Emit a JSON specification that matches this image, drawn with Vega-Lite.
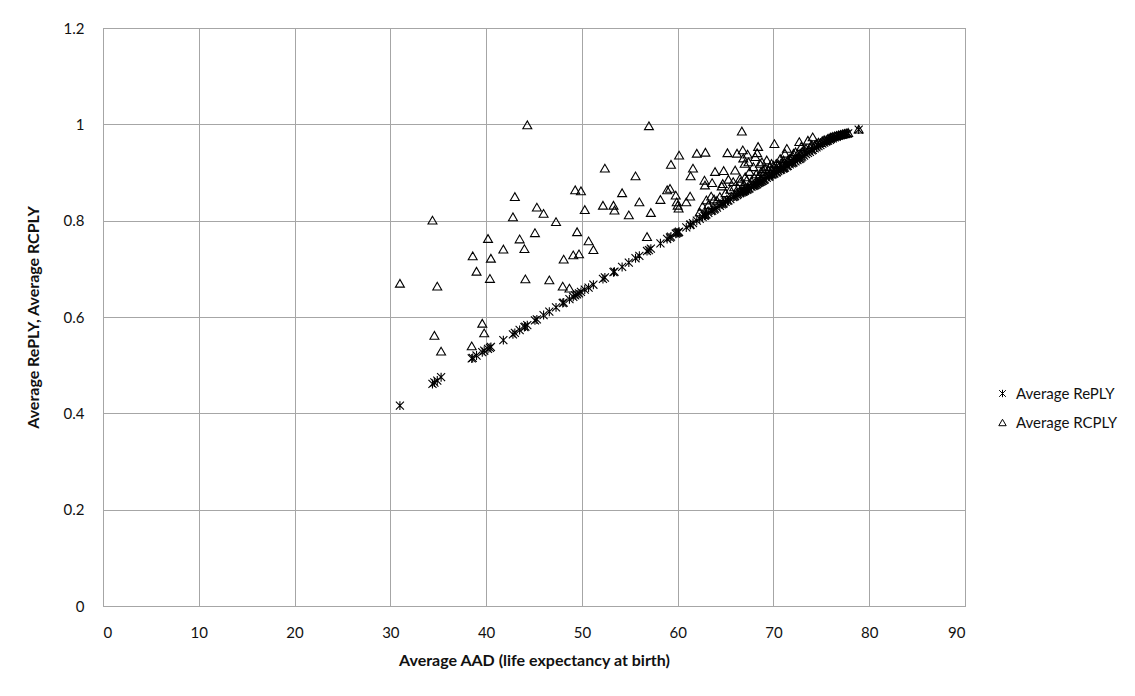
{
  "$schema": "https://vega.github.io/schema/vega-lite/v6.json",
  "width": 862,
  "height": 578,
  "autosize": "none",
  "padding": {"left": 103, "top": 28, "right": 170, "bottom": 90},
  "background": "white",
  "data": {
    "values": [
      {"aad": 31.0, "Average RePLY": 0.416, "Average RCPLY": 0.670},
      {"aad": 34.4, "Average RePLY": 0.461, "Average RCPLY": 0.801},
      {"aad": 34.6, "Average RePLY": 0.464, "Average RCPLY": 0.562},
      {"aad": 34.9, "Average RePLY": 0.468, "Average RCPLY": 0.664},
      {"aad": 35.3, "Average RePLY": 0.475, "Average RCPLY": 0.529},
      {"aad": 38.5, "Average RePLY": 0.514, "Average RCPLY": 0.540},
      {"aad": 38.6, "Average RePLY": 0.515, "Average RCPLY": 0.727},
      {"aad": 39.0, "Average RePLY": 0.520, "Average RCPLY": 0.695},
      {"aad": 39.6, "Average RePLY": 0.527, "Average RCPLY": 0.587},
      {"aad": 39.8, "Average RePLY": 0.530, "Average RCPLY": 0.567},
      {"aad": 40.2, "Average RePLY": 0.534, "Average RCPLY": 0.763},
      {"aad": 40.5, "Average RePLY": 0.538, "Average RCPLY": 0.722},
      {"aad": 40.4, "Average RePLY": 0.536, "Average RCPLY": 0.680},
      {"aad": 41.8, "Average RePLY": 0.552, "Average RCPLY": 0.741},
      {"aad": 42.8, "Average RePLY": 0.564, "Average RCPLY": 0.808},
      {"aad": 43.0, "Average RePLY": 0.567, "Average RCPLY": 0.850},
      {"aad": 43.5, "Average RePLY": 0.573, "Average RCPLY": 0.762},
      {"aad": 44.0, "Average RePLY": 0.579, "Average RCPLY": 0.742},
      {"aad": 44.1, "Average RePLY": 0.580, "Average RCPLY": 0.679},
      {"aad": 44.3, "Average RePLY": 0.583, "Average RCPLY": 0.999},
      {"aad": 45.1, "Average RePLY": 0.593, "Average RCPLY": 0.775},
      {"aad": 45.3, "Average RePLY": 0.595, "Average RCPLY": 0.828},
      {"aad": 46.0, "Average RePLY": 0.604, "Average RCPLY": 0.815},
      {"aad": 46.6, "Average RePLY": 0.611, "Average RCPLY": 0.677},
      {"aad": 47.3, "Average RePLY": 0.620, "Average RCPLY": 0.798},
      {"aad": 48.1, "Average RePLY": 0.630, "Average RCPLY": 0.720},
      {"aad": 48.0, "Average RePLY": 0.629, "Average RCPLY": 0.664},
      {"aad": 48.7, "Average RePLY": 0.637, "Average RCPLY": 0.660},
      {"aad": 49.1, "Average RePLY": 0.642, "Average RCPLY": 0.729},
      {"aad": 49.7, "Average RePLY": 0.649, "Average RCPLY": 0.731},
      {"aad": 49.3, "Average RePLY": 0.645, "Average RCPLY": 0.864},
      {"aad": 49.9, "Average RePLY": 0.652, "Average RCPLY": 0.862},
      {"aad": 49.5, "Average RePLY": 0.647, "Average RCPLY": 0.777},
      {"aad": 50.3, "Average RePLY": 0.657, "Average RCPLY": 0.823},
      {"aad": 50.7, "Average RePLY": 0.661, "Average RCPLY": 0.758},
      {"aad": 51.2, "Average RePLY": 0.667, "Average RCPLY": 0.740},
      {"aad": 52.2, "Average RePLY": 0.679, "Average RCPLY": 0.832},
      {"aad": 52.4, "Average RePLY": 0.682, "Average RCPLY": 0.909},
      {"aad": 53.3, "Average RePLY": 0.693, "Average RCPLY": 0.832},
      {"aad": 53.4, "Average RePLY": 0.694, "Average RCPLY": 0.822},
      {"aad": 54.2, "Average RePLY": 0.704, "Average RCPLY": 0.858},
      {"aad": 54.9, "Average RePLY": 0.713, "Average RCPLY": 0.812},
      {"aad": 55.6, "Average RePLY": 0.722, "Average RCPLY": 0.893},
      {"aad": 56.0, "Average RePLY": 0.727, "Average RCPLY": 0.839},
      {"aad": 56.8, "Average RePLY": 0.737, "Average RCPLY": 0.767},
      {"aad": 57.0, "Average RePLY": 0.739, "Average RCPLY": 0.997},
      {"aad": 57.2, "Average RePLY": 0.742, "Average RCPLY": 0.817},
      {"aad": 58.2, "Average RePLY": 0.753, "Average RCPLY": 0.844},
      {"aad": 58.9, "Average RePLY": 0.762, "Average RCPLY": 0.864},
      {"aad": 59.2, "Average RePLY": 0.765, "Average RCPLY": 0.867},
      {"aad": 59.3, "Average RePLY": 0.767, "Average RCPLY": 0.917},
      {"aad": 59.8, "Average RePLY": 0.773, "Average RCPLY": 0.853},
      {"aad": 59.9, "Average RePLY": 0.774, "Average RCPLY": 0.839},
      {"aad": 60.0, "Average RePLY": 0.775, "Average RCPLY": 0.832},
      {"aad": 60.1, "Average RePLY": 0.776, "Average RCPLY": 0.826},
      {"aad": 60.15, "Average RePLY": 0.777, "Average RCPLY": 0.936},
      {"aad": 60.9, "Average RePLY": 0.786, "Average RCPLY": 0.839},
      {"aad": 61.3, "Average RePLY": 0.791, "Average RCPLY": 0.851},
      {"aad": 61.35, "Average RePLY": 0.792, "Average RCPLY": 0.893},
      {"aad": 61.6, "Average RePLY": 0.795, "Average RCPLY": 0.909},
      {"aad": 62.0, "Average RePLY": 0.800, "Average RCPLY": 0.940},
      {"aad": 62.3, "Average RePLY": 0.804, "Average RCPLY": 0.818},
      {"aad": 62.6, "Average RePLY": 0.808, "Average RCPLY": 0.830},
      {"aad": 62.8, "Average RePLY": 0.810, "Average RCPLY": 0.884},
      {"aad": 62.85, "Average RePLY": 0.811, "Average RCPLY": 0.874},
      {"aad": 62.9, "Average RePLY": 0.812, "Average RCPLY": 0.942},
      {"aad": 63.0, "Average RePLY": 0.813, "Average RCPLY": 0.843},
      {"aad": 63.2, "Average RePLY": 0.816, "Average RCPLY": 0.833},
      {"aad": 63.5, "Average RePLY": 0.820, "Average RCPLY": 0.851},
      {"aad": 63.6, "Average RePLY": 0.821, "Average RCPLY": 0.879},
      {"aad": 63.8, "Average RePLY": 0.823, "Average RCPLY": 0.845},
      {"aad": 63.9, "Average RePLY": 0.825, "Average RCPLY": 0.902},
      {"aad": 64.1, "Average RePLY": 0.827, "Average RCPLY": 0.842},
      {"aad": 64.4, "Average RePLY": 0.831, "Average RCPLY": 0.850},
      {"aad": 64.6, "Average RePLY": 0.834, "Average RCPLY": 0.872},
      {"aad": 64.7, "Average RePLY": 0.835, "Average RCPLY": 0.877},
      {"aad": 64.8, "Average RePLY": 0.836, "Average RCPLY": 0.904},
      {"aad": 65.0, "Average RePLY": 0.839, "Average RCPLY": 0.858},
      {"aad": 65.2, "Average RePLY": 0.841, "Average RCPLY": 0.941},
      {"aad": 65.3, "Average RePLY": 0.842, "Average RCPLY": 0.886},
      {"aad": 65.5, "Average RePLY": 0.845, "Average RCPLY": 0.865},
      {"aad": 65.8, "Average RePLY": 0.849, "Average RCPLY": 0.881},
      {"aad": 65.9, "Average RePLY": 0.850, "Average RCPLY": 0.870},
      {"aad": 66.0, "Average RePLY": 0.851, "Average RCPLY": 0.905},
      {"aad": 66.2, "Average RePLY": 0.853, "Average RCPLY": 0.940},
      {"aad": 66.3, "Average RePLY": 0.855, "Average RCPLY": 0.868},
      {"aad": 66.5, "Average RePLY": 0.857, "Average RCPLY": 0.888},
      {"aad": 66.55, "Average RePLY": 0.858, "Average RCPLY": 0.881},
      {"aad": 66.7, "Average RePLY": 0.859, "Average RCPLY": 0.986},
      {"aad": 66.8, "Average RePLY": 0.860, "Average RCPLY": 0.947},
      {"aad": 66.85, "Average RePLY": 0.861, "Average RCPLY": 0.930},
      {"aad": 66.9, "Average RePLY": 0.861, "Average RCPLY": 0.876},
      {"aad": 67.0, "Average RePLY": 0.862, "Average RCPLY": 0.919},
      {"aad": 67.05, "Average RePLY": 0.863, "Average RCPLY": 0.891},
      {"aad": 67.2, "Average RePLY": 0.864, "Average RCPLY": 0.884},
      {"aad": 67.3, "Average RePLY": 0.865, "Average RCPLY": 0.938},
      {"aad": 67.4, "Average RePLY": 0.866, "Average RCPLY": 0.922},
      {"aad": 67.5, "Average RePLY": 0.867, "Average RCPLY": 0.902},
      {"aad": 67.7, "Average RePLY": 0.870, "Average RCPLY": 0.883},
      {"aad": 67.9, "Average RePLY": 0.872, "Average RCPLY": 0.912},
      {"aad": 68.0, "Average RePLY": 0.873, "Average RCPLY": 0.890},
      {"aad": 68.1, "Average RePLY": 0.874, "Average RCPLY": 0.933},
      {"aad": 68.2, "Average RePLY": 0.875, "Average RCPLY": 0.897},
      {"aad": 68.3, "Average RePLY": 0.876, "Average RCPLY": 0.941},
      {"aad": 68.4, "Average RePLY": 0.878, "Average RCPLY": 0.954},
      {"aad": 68.5, "Average RePLY": 0.879, "Average RCPLY": 0.893},
      {"aad": 68.6, "Average RePLY": 0.880, "Average RCPLY": 0.919},
      {"aad": 68.7, "Average RePLY": 0.881, "Average RCPLY": 0.902},
      {"aad": 68.8, "Average RePLY": 0.882, "Average RCPLY": 0.922},
      {"aad": 68.9, "Average RePLY": 0.883, "Average RCPLY": 0.905},
      {"aad": 69.0, "Average RePLY": 0.885, "Average RCPLY": 0.898},
      {"aad": 69.1, "Average RePLY": 0.886, "Average RCPLY": 0.908},
      {"aad": 69.3, "Average RePLY": 0.889, "Average RCPLY": 0.926},
      {"aad": 69.5, "Average RePLY": 0.891, "Average RCPLY": 0.905},
      {"aad": 69.6, "Average RePLY": 0.892, "Average RCPLY": 0.912},
      {"aad": 69.8, "Average RePLY": 0.895, "Average RCPLY": 0.919},
      {"aad": 69.9, "Average RePLY": 0.896, "Average RCPLY": 0.907},
      {"aad": 70.0, "Average RePLY": 0.897, "Average RCPLY": 0.915},
      {"aad": 70.1, "Average RePLY": 0.898, "Average RCPLY": 0.960},
      {"aad": 70.3, "Average RePLY": 0.900, "Average RCPLY": 0.919},
      {"aad": 70.35, "Average RePLY": 0.901, "Average RCPLY": 0.909},
      {"aad": 70.5, "Average RePLY": 0.903, "Average RCPLY": 0.917},
      {"aad": 70.7, "Average RePLY": 0.905, "Average RCPLY": 0.929},
      {"aad": 70.8, "Average RePLY": 0.906, "Average RCPLY": 0.920},
      {"aad": 71.0, "Average RePLY": 0.908, "Average RCPLY": 0.919},
      {"aad": 71.05, "Average RePLY": 0.909, "Average RCPLY": 0.926},
      {"aad": 71.1, "Average RePLY": 0.909, "Average RCPLY": 0.921},
      {"aad": 71.2, "Average RePLY": 0.910, "Average RCPLY": 0.940},
      {"aad": 71.4, "Average RePLY": 0.913, "Average RCPLY": 0.950},
      {"aad": 71.5, "Average RePLY": 0.914, "Average RCPLY": 0.926},
      {"aad": 71.7, "Average RePLY": 0.917, "Average RCPLY": 0.929},
      {"aad": 71.9, "Average RePLY": 0.919, "Average RCPLY": 0.931},
      {"aad": 72.0, "Average RePLY": 0.920, "Average RCPLY": 0.935},
      {"aad": 72.1, "Average RePLY": 0.921, "Average RCPLY": 0.940},
      {"aad": 72.3, "Average RePLY": 0.923, "Average RCPLY": 0.943},
      {"aad": 72.5, "Average RePLY": 0.926, "Average RCPLY": 0.937},
      {"aad": 72.7, "Average RePLY": 0.928, "Average RCPLY": 0.964},
      {"aad": 72.8, "Average RePLY": 0.929, "Average RCPLY": 0.940},
      {"aad": 72.9, "Average RePLY": 0.931, "Average RCPLY": 0.954},
      {"aad": 73.0, "Average RePLY": 0.933, "Average RCPLY": 0.944},
      {"aad": 73.2, "Average RePLY": 0.935, "Average RCPLY": 0.948},
      {"aad": 73.4, "Average RePLY": 0.938, "Average RCPLY": 0.950},
      {"aad": 73.6, "Average RePLY": 0.941, "Average RCPLY": 0.967},
      {"aad": 73.8, "Average RePLY": 0.943, "Average RCPLY": 0.952},
      {"aad": 74.0, "Average RePLY": 0.946, "Average RCPLY": 0.958},
      {"aad": 74.1, "Average RePLY": 0.947, "Average RCPLY": 0.974},
      {"aad": 74.3, "Average RePLY": 0.950, "Average RCPLY": 0.957},
      {"aad": 74.5, "Average RePLY": 0.952, "Average RCPLY": 0.961},
      {"aad": 74.7, "Average RePLY": 0.955, "Average RCPLY": 0.963},
      {"aad": 74.9, "Average RePLY": 0.957, "Average RCPLY": 0.962},
      {"aad": 75.1, "Average RePLY": 0.960, "Average RCPLY": 0.966},
      {"aad": 75.3, "Average RePLY": 0.962, "Average RCPLY": 0.968},
      {"aad": 75.5, "Average RePLY": 0.964, "Average RCPLY": 0.967},
      {"aad": 75.7, "Average RePLY": 0.966, "Average RCPLY": 0.971},
      {"aad": 75.9, "Average RePLY": 0.968, "Average RCPLY": 0.972},
      {"aad": 76.0, "Average RePLY": 0.970, "Average RCPLY": 0.974},
      {"aad": 76.2, "Average RePLY": 0.971, "Average RCPLY": 0.975},
      {"aad": 76.4, "Average RePLY": 0.973, "Average RCPLY": 0.976},
      {"aad": 76.6, "Average RePLY": 0.974, "Average RCPLY": 0.977},
      {"aad": 76.8, "Average RePLY": 0.976, "Average RCPLY": 0.978},
      {"aad": 77.0, "Average RePLY": 0.977, "Average RCPLY": 0.979},
      {"aad": 77.2, "Average RePLY": 0.978, "Average RCPLY": 0.980},
      {"aad": 77.4, "Average RePLY": 0.979, "Average RCPLY": 0.981},
      {"aad": 77.6, "Average RePLY": 0.980, "Average RCPLY": 0.982},
      {"aad": 77.8, "Average RePLY": 0.981, "Average RCPLY": 0.983},
      {"aad": 78.9, "Average RePLY": 0.989, "Average RCPLY": 0.990}
    ]
  },
  "transform": [
    {"fold": ["Average RePLY", "Average RCPLY"], "as": ["series", "value"]}
  ],
  "mark": {"type": "point", "filled": false, "strokeWidth": 1.1, "opacity": 1, "color": "black", "size": 80},
  "encoding": {
    "x": {
      "field": "aad",
      "type": "quantitative",
      "scale": {"domain": [0, 90], "nice": false, "zero": false},
      "axis": {"values": [0, 10, 20, 30, 40, 50, 60, 70, 80, 90], "title": "Average AAD (life expectancy at birth)", "labelPadding": 19, "titlePadding": 12}
    },
    "y": {
      "field": "value",
      "type": "quantitative",
      "scale": {"domain": [0, 1.2], "nice": false},
      "axis": {"values": [0, 0.2, 0.4, 0.6, 0.8, 1, 1.2], "format": "~g", "title": "Average RePLY, Average RCPLY", "labelPadding": 19, "titlePadding": 22}
    },
    "shape": {
      "field": "series",
      "type": "nominal",
      "scale": {
        "domain": ["Average RePLY", "Average RCPLY"],
        "range": ["M-0.9,-0.9L0.9,0.9M-0.9,0.9L0.9,-0.9M0,-1L0,1", "triangle-up"]
      },
      "legend": {
        "title": null,
        "orient": "none",
        "legendX": 892,
        "legendY": 358,
        "symbolSize": 55,
        "symbolStrokeColor": "black",
        "symbolFillColor": "transparent",
        "symbolStrokeWidth": 1,
        "labelFontSize": 15,
        "labelFont": "Lato",
        "labelColor": "#111111",
        "rowPadding": 13,
        "labelOffset": 6
      }
    }
  },
  "config": {
    "view": {"stroke": "#8c8c8c", "strokeWidth": 1},
    "axis": {
      "domain": false,
      "ticks": false,
      "grid": true,
      "gridColor": "#a6a6a6",
      "gridWidth": 1,
      "labelFont": "Lato",
      "labelFontSize": 15,
      "labelColor": "#111111",
      "titleFont": "Lato",
      "titleFontSize": 16,
      "titleFontWeight": "bold",
      "titleColor": "#111111"
    }
  }
}
